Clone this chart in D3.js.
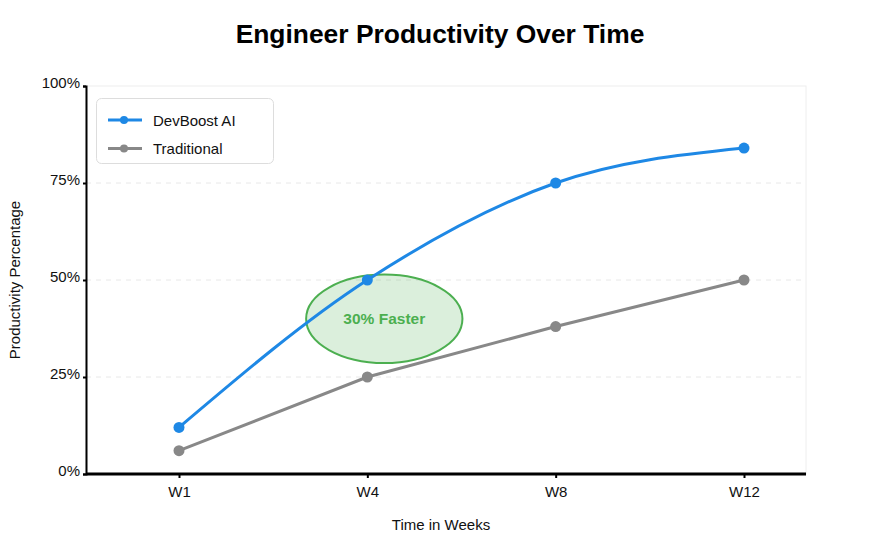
<!DOCTYPE html>
<html><head><meta charset="utf-8">
<script src="https://cdn.jsdelivr.net/npm/d3@7/dist/d3.min.js"></script>
<style>
body{margin:0;background:#fff;}
svg{display:block;font-family:"Liberation Sans",Arial,Helvetica,sans-serif;}
</style>
</head><body>
<svg id="chart" width="880" height="550"></svg>
<script>
// ---- data ----
const weeks = ["W1", "W4", "W8", "W12"];
const devboostValues = [12, 50, 75, 84];
const traditionalValues = [6, 25, 38, 50];
const seriesNames = ["DevBoost AI", "Traditional"];
const yTickValues = [0, 25, 50, 75, 100];
const yTickLabels = ["0%", "25%", "50%", "75%", "100%"];
const gridValues = [25, 50, 75];
const annotationLabel = "30% Faster";
const annotationWeek = "W4";
const annotationValue = 40;

// ---- layout ----
const W = 880, H = 550;
const plot = {left: 86, right: 806, top: 86, bottom: 474};
const blue = "#1e88e5", gray = "#888888", green = "#4caf50";

const svg = d3.select("#chart");

const x = d3.scalePoint().domain(weeks).range([plot.left + 93, plot.right - 62]);
const y = d3.scaleLinear().domain([0, 100]).range([plot.bottom, plot.top]);

// plot frame
svg.append("rect")
  .attr("x", plot.left).attr("y", plot.top)
  .attr("width", plot.right - plot.left).attr("height", plot.bottom - plot.top)
  .attr("fill", "#fff").attr("stroke", "#eeeeee").attr("stroke-width", 1);

// grid
svg.append("g").selectAll("line").data(gridValues).join("line")
  .attr("x1", plot.left).attr("x2", plot.right)
  .attr("y1", d => y(d)).attr("y2", d => y(d))
  .attr("stroke", "#e8e8e8").attr("stroke-width", 1)
  .attr("stroke-dasharray", "5,5");

// title
svg.append("text").attr("x", W / 2).attr("y", 43)
  .attr("text-anchor", "middle").attr("font-size", "26.4px").attr("font-weight", "bold")
  .attr("fill", "#000").text("Engineer Productivity Over Time");

// axes
const yAxis = svg.append("g").attr("transform", `translate(${plot.left},0)`)
  .call(d3.axisLeft(y).tickValues(yTickValues)
    .tickFormat((d, i) => yTickLabels[i]).tickSize(3).tickPadding(3));
yAxis.select(".domain").attr("stroke", "#000").attr("stroke-width", 2);
yAxis.selectAll(".tick line").attr("stroke", "#000").attr("stroke-width", 2);
yAxis.selectAll(".tick text").attr("font-size", "15px").attr("font-family", "Liberation Sans, Arial, sans-serif")
  .attr("fill", "#111").attr("dy", "0.1em");

const xAxis = svg.append("g").attr("transform", `translate(0,${plot.bottom})`)
  .call(d3.axisBottom(x).tickSize(4).tickPadding(8));
xAxis.select(".domain").attr("stroke", "#000").attr("stroke-width", 3)
  .attr("d", `M${plot.left},0H${plot.right}`);
xAxis.selectAll(".tick line").attr("stroke", "#000").attr("stroke-width", 2);
xAxis.selectAll(".tick text").attr("font-size", "15px").attr("font-family", "Liberation Sans, Arial, sans-serif")
  .attr("fill", "#111");

// axis titles
svg.append("text").attr("x", (plot.left + plot.right) / 2 - 5).attr("y", 530)
  .attr("text-anchor", "middle").attr("font-size", "15px").attr("fill", "#111")
  .text("Time in Weeks");
svg.append("text").attr("transform", `translate(20,${(plot.top + plot.bottom) / 2}) rotate(-90)`)
  .attr("text-anchor", "middle").attr("font-size", "15px").attr("fill", "#111")
  .text("Productivity Percentage");

// annotation ellipse (behind lines)
const ax = x(annotationWeek) + x.step() * 0.09;
const ay = y(annotationValue);
svg.append("ellipse").attr("cx", ax).attr("cy", ay)
  .attr("rx", x.step() * 0.415).attr("ry", y(0) - y(11.4))
  .attr("fill", green).attr("fill-opacity", 0.2)
  .attr("stroke", green).attr("stroke-width", 2);

// lines
const devData = weeks.map((w, i) => ({w, v: devboostValues[i]}));
const tradData = weeks.map((w, i) => ({w, v: traditionalValues[i]}));

svg.append("path").datum(tradData)
  .attr("fill", "none").attr("stroke", gray).attr("stroke-width", 3)
  .attr("d", d3.line().x(d => x(d.w)).y(d => y(d.v)));
svg.append("g").selectAll("circle").data(tradData).join("circle")
  .attr("cx", d => x(d.w)).attr("cy", d => y(d.v)).attr("r", 5.5).attr("fill", gray);

svg.append("path").datum(devData)
  .attr("fill", "none").attr("stroke", blue).attr("stroke-width", 3)
  .attr("d", d3.line().x(d => x(d.w)).y(d => y(d.v)).curve(d3.curveMonotoneX));
svg.append("g").selectAll("circle").data(devData).join("circle")
  .attr("cx", d => x(d.w)).attr("cy", d => y(d.v)).attr("r", 5.5).attr("fill", blue);

// annotation text
svg.append("text").attr("x", ax).attr("y", ay + 5.5)
  .attr("text-anchor", "middle").attr("font-size", "15.5px").attr("font-weight", "bold")
  .attr("fill", green).text(annotationLabel);

// legend
const lg = svg.append("g");
lg.append("rect").attr("x", 96.5).attr("y", 98.5).attr("width", 177).attr("height", 65)
  .attr("rx", 5).attr("fill", "#fff").attr("fill-opacity", 0.9)
  .attr("stroke", "#dddddd").attr("stroke-width", 1);
const legendColors = [blue, gray];
seriesNames.forEach((name, i) => {
  const ly = 120 + i * 28.5;
  lg.append("line").attr("x1", 108).attr("x2", 142).attr("y1", ly).attr("y2", ly)
    .attr("stroke", legendColors[i]).attr("stroke-width", 3);
  lg.append("circle").attr("cx", 124).attr("cy", ly).attr("r", 4).attr("fill", legendColors[i]);
  lg.append("text").attr("x", 153).attr("y", ly + 5.5).attr("font-size", "15px")
    .attr("fill", "#111").text(name);
});
</script>
</body></html>
